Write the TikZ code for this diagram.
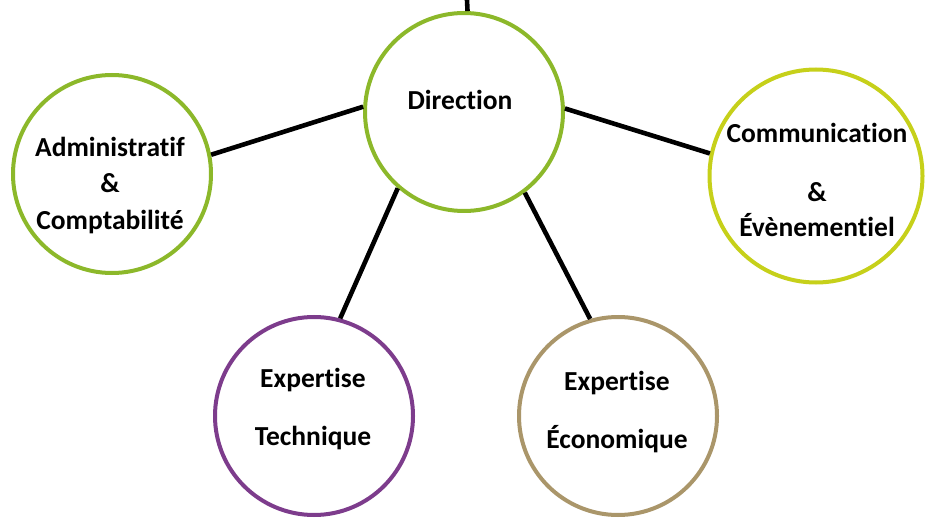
\documentclass[tikz,border=0pt]{standalone}
\usepackage{fontspec}
\setmainfont{Carlito}[Ligatures={NoCommon}]
\definecolor{cgreen}{HTML}{8CB82A}
\definecolor{clime}{HTML}{C6D01A}
\definecolor{cpurple}{HTML}{7D3C8C}
\definecolor{ctan}{HTML}{AA966A}
\begin{document}
\begin{tikzpicture}[x=1pt,y=-1pt,
  bubble/.style={circle,draw=#1,line width=4pt,minimum size=198pt,inner sep=0pt,fill=white},
  lbl/.style={anchor=base,font=\fontsize{27.5}{33}\selectfont\bfseries,inner sep=0pt},
  conn/.style={line width=4.6pt,black}]
\useasboundingbox (0,0) rectangle (925,518);
\node[bubble=cgreen] (dir) at (464,112) {};
\node[bubble=cgreen] (admin) at (112,174) {};
\node[bubble=clime,minimum size=213pt] (comm) at (816,176) {};
\node[bubble=cpurple] (tech) at (314,416) {};
\node[bubble=ctan] (eco) at (618,416) {};
\coordinate (top) at (467,0);
\draw[conn] (dir.88) -- (top);
\draw[conn] (dir.177.7) -- (admin.11.7);
\draw[conn] (dir.2.3) -- (comm.168);
\draw[conn] (dir.229.3) -- (tech.75);
\draw[conn] (dir.307.6) -- (eco.106.9);
\node[lbl] (tdir) at (460,110) {Direction};
\node[lbl] (ta1) at (110,157) {Administratif};
\node[lbl] (ta2) at (110,193) {\&};
\node[lbl] (ta3) at (110,230) {Comptabilité};
\node[lbl] (tc1) at (817,143) {Communication};
\node[lbl] (tc2) at (817,202) {\&};
\node[lbl] (tc3) at (817,237) {Évènementiel};
\node[lbl] (tt1) at (313,387) {Expertise};
\node[lbl] (tt2) at (313,445) {Technique};
\node[lbl] (te1) at (617,390) {Expertise};
\node[lbl] (te2) at (617,448) {Économique};
\end{tikzpicture}
\end{document}
